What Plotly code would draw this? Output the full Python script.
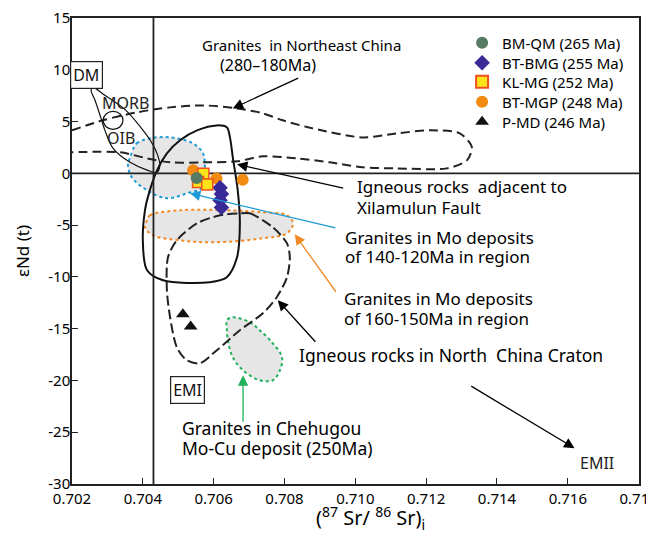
import plotly.graph_objects as go

# ---------------- data ----------------
BMQM_X = [0.70552]
BMQM_Y = [-0.45]
BTBMG_X = [0.70618, 0.70622, 0.70618, 0.70622]
BTBMG_Y = [-1.4, -2.0, -2.6, -3.3]
KLMG_X = [0.70571, 0.70556, 0.70582]
KLMG_Y = [-0.03, -0.84, -1.09]
BTMGP_X = [0.70542, 0.70608, 0.70682]
BTMGP_Y = [0.29, -0.51, -0.61]
PMD_X = [0.70513, 0.70535]
PMD_Y = [-13.6, -14.8]

# reference lines
SR_BULK = 0.7043
ND_CHUR = 0.0
X_RANGE = [0.702, 0.71801]
Y_RANGE = [-30, 15]

X_TICKS = [0.702, 0.704, 0.706, 0.708, 0.710, 0.712, 0.714, 0.716, 0.718]
X_TICKTEXT = ["0.702", "0.704", "0.706", "0.708", "0.710", "0.712", "0.714", "0.716", "0.718"]
Y_TICKS = [-30, -25, -20, -15, -10, -5, 0, 5, 10, 15]
Y_TICKTEXT = ["-30", "-25", "-20", "-15", "-10", "-5", "0", "5", "10", "15"]

# field outlines
MANTLE_X = [0.70259, 0.70293, 0.70352, 0.70394, 0.70421, 0.70440, 0.70448, 0.70440, 0.70414,
            0.70364, 0.70316, 0.70293, 0.70282, 0.70265, 0.70254, 0.70259]
MANTLE_Y = [8.30, 7.53, 6.08, 4.44, 3.19, 1.93, 0.77, 0.10, 0.29, 1.06, 2.41, 4.15, 5.31, 7.05, 8.01, 8.30]

OIB_CIRCLE = dict(x0=0.70288, x1=0.70344, y0=4.25, y1=5.99)

XILA_X = [0.70406, 0.70414, 0.70440, 0.70468, 0.70505, 0.70553, 0.70609, 0.70637, 0.70646, 0.70654,
          0.70668, 0.70674, 0.70666, 0.70637, 0.70589, 0.70457, 0.70412, 0.70400, 0.70406]
XILA_Y = [-3.57, -2.32, 0.29, 1.93, 3.19, 4.15, 4.63, 4.44, 3.47, 1.54,
          -1.64, -4.83, -8.11, -10.04, -10.52, -10.33, -9.36, -6.47, -3.57]

NE_X = [0.70200, 0.70287, 0.70383, 0.70477, 0.70570, 0.70666, 0.70739, 0.70795, 0.70880, 0.71021,
        0.71117, 0.71210, 0.71295, 0.71329, 0.71315, 0.71258, 0.71117, 0.71021, 0.70928, 0.70835,
        0.70739, 0.70666, 0.70570, 0.70477, 0.70412, 0.70335, 0.70200]
NE_Y = [4.15, 5.12, 5.89, 6.37, 6.56, 6.27, 5.79, 5.12, 4.34, 3.47,
        3.86, 4.15, 3.86, 2.51, 1.25, 0.48, 0.48, 0.58, 1.06, 1.45,
        1.64, 1.16, 1.06, 1.06, 1.45, 2.03, 2.03]

BLUE_X = [0.70364, 0.70383, 0.70420, 0.70477, 0.70541, 0.70570, 0.70575, 0.70570, 0.70524,
          0.70468, 0.70412, 0.70369, 0.70358, 0.70364]
BLUE_Y = [1.54, 2.90, 3.38, 3.47, 2.90, 1.93, 0.58, -1.35, -1.93, -2.41, -1.64, -0.39, 0.77, 1.54]

ORANGE_X = [0.70412, 0.70420, 0.70505, 0.70646, 0.70739, 0.70807, 0.70824, 0.70807, 0.70739,
            0.70598, 0.70505, 0.70429, 0.70406, 0.70412]
ORANGE_Y = [-4.54, -4.05, -3.57, -3.57, -3.76, -4.05, -4.83, -5.79, -6.27, -6.66, -6.47, -5.98, -5.21, -4.54]

NCC_X = [0.70674, 0.70702, 0.70767, 0.70807, 0.70815, 0.70807, 0.70778, 0.70739, 0.70674, 0.70609,
         0.70561, 0.70524, 0.70496, 0.70477, 0.70468, 0.70471, 0.70496, 0.70553, 0.70618, 0.70674]
NCC_Y = [-3.86, -3.86, -5.21, -6.76, -8.11, -10.04, -11.97, -13.51, -15.15, -17.08,
         -18.34, -18.05, -16.80, -13.90, -11.29, -8.11, -6.47, -4.83, -4.05, -3.86]

GREEN_X = [0.70637, 0.70654, 0.70702, 0.70730, 0.70767, 0.70793, 0.70787, 0.70767, 0.70730,
           0.70683, 0.70654, 0.70640, 0.70637, 0.70637]
GREEN_Y = [-14.19, -13.90, -14.38, -15.15, -16.41, -17.76, -19.02, -19.98, -19.98,
           -19.02, -17.76, -16.12, -14.86, -14.19]

# labels: (text, x, y, size)
LEFT_LABELS = [
    ("Granites  in Northeast China", 0.70561, 12.36, 15),
    ("(280–180Ma)", 0.70612, 10.42, 16),
    ("Igneous rocks  adjacent to", 0.70999, -1.25, 17),
    ("Xilamulun Fault", 0.70999, -3.28, 17),
    ("Granites in Mo deposits", 0.70965, -6.18, 17),
    ("of 140-120Ma in region", 0.70965, -8.01, 17),
    ("Granites in Mo deposits", 0.70962, -12.07, 17),
    ("of 160-150Ma in region", 0.70962, -14.0, 17),
    ("Igneous rocks in North  China Craton", 0.70835, -17.57, 17.5),
    ("Granites in Chehugou", 0.70505, -24.61, 17.5),
    ("Mo-Cu deposit (250Ma)", 0.70505, -26.54, 17.5),
]
CENTER_LABELS = [
    ("MORB", 0.70352, 6.76),
    ("OIB", 0.70338, 3.38),
    ("EMII", 0.71681, -27.99),
]
BOXED_LABELS = [
    ("DM", 0.70242, 9.46),
    ("EMI", 0.70527, -20.95),
]
# arrows: (tail_x, tail_y, head_x, head_y, colour)
ARROWS = [
    (0.70843, 9.27, 0.70654, 6.27, "black"),
    (0.70970, -1.45, 0.70666, 0.87, "black"),
    (0.70948, -5.31, 0.70533, -1.93, "#1c9ad6"),
    (0.70948, -11.58, 0.70829, -5.89, "#f08a24"),
    (0.70891, -16.41, 0.70781, -12.26, "black"),
    (0.70683, -24.13, 0.70683, -19.50, "#20b15a"),
    (0.71323, -20.46, 0.71619, -26.54, "black"),
]

FONT = "Noto Sans, Liberation Sans, Arial, sans-serif"
GRAY = "#e6e6e6"

fig = go.Figure()

# filled dotted fields
for xs, ys, col in [(BLUE_X, BLUE_Y, "#1c9ad6"), (ORANGE_X, ORANGE_Y, "#f08a24"), (GREEN_X, GREEN_Y, "#20b15a")]:
    fig.add_trace(go.Scatter(x=xs, y=ys, mode="lines", fill="toself", fillcolor=GRAY,
                             line=dict(color=col, width=2, dash="dot", shape="spline", smoothing=1.0),
                             showlegend=False, hoverinfo="skip"))

# black outlines
fig.add_trace(go.Scatter(x=NE_X, y=NE_Y, mode="lines",
                         line=dict(color="#222", width=2, dash="9px,5px", shape="spline", smoothing=0.8),
                         showlegend=False, hoverinfo="skip"))
fig.add_trace(go.Scatter(x=NCC_X, y=NCC_Y, mode="lines",
                         line=dict(color="#222", width=2, dash="10px,4px", shape="spline", smoothing=0.8),
                         showlegend=False, hoverinfo="skip"))
fig.add_trace(go.Scatter(x=XILA_X, y=XILA_Y, mode="lines",
                         line=dict(color="#111", width=2, shape="spline", smoothing=0.9),
                         showlegend=False, hoverinfo="skip"))
fig.add_trace(go.Scatter(x=MANTLE_X, y=MANTLE_Y, mode="lines",
                         line=dict(color="#111", width=1.2, shape="spline", smoothing=0.9),
                         showlegend=False, hoverinfo="skip"))

# reference lines
fig.add_trace(go.Scatter(x=X_RANGE, y=[ND_CHUR, ND_CHUR], mode="lines",
                         line=dict(color="#222", width=1.8), showlegend=False, hoverinfo="skip"))
fig.add_trace(go.Scatter(x=[SR_BULK, SR_BULK], y=Y_RANGE, mode="lines",
                         line=dict(color="#222", width=1.8), showlegend=False, hoverinfo="skip"))

# data points (each in its own legend box, stacked like the reference)
fig.add_trace(go.Scatter(x=BTMGP_X, y=BTMGP_Y, mode="markers", name="BT-MGP (248 Ma)", legend="legend4",
                         marker=dict(symbol="circle", size=12, color="#f28a12")))
fig.add_trace(go.Scatter(x=BTBMG_X, y=BTBMG_Y, mode="markers", name="BT-BMG (255 Ma)", legend="legend2",
                         marker=dict(symbol="diamond", size=12, color="#3a2a98")))
fig.add_trace(go.Scatter(x=KLMG_X, y=KLMG_Y, mode="markers", name="KL-MG (252 Ma)", legend="legend3",
                         marker=dict(symbol="square", size=11, color="#ffe31a",
                                     line=dict(color="#f0501e", width=1.5))))
fig.add_trace(go.Scatter(x=BMQM_X, y=BMQM_Y, mode="markers", name="BM-QM (265 Ma)", legend="legend",
                         marker=dict(symbol="circle", size=12, color="#577a62")))
fig.add_trace(go.Scatter(x=PMD_X, y=PMD_Y, mode="markers", name="P-MD (246 Ma)", legend="legend5",
                         marker=dict(symbol="triangle-up", size=12, color="#111")))

annotations = []
for t, x, y, s in LEFT_LABELS:
    annotations.append(dict(text=t, x=x, y=y, xref="x", yref="y", xanchor="left", yanchor="middle",
                            showarrow=False, font=dict(size=s, color="black", family=FONT)))
for t, x, y in CENTER_LABELS:
    annotations.append(dict(text=t, x=x, y=y, xref="x", yref="y", xanchor="center", yanchor="middle",
                            showarrow=False, font=dict(size=16, color="#222", family=FONT)))
for t, x, y in BOXED_LABELS:
    annotations.append(dict(text=t, x=x, y=y, xref="x", yref="y", xanchor="center", yanchor="middle",
                            showarrow=False, bordercolor="#222", borderwidth=1.2, borderpad=2,
                            bgcolor="white", font=dict(size=16, color="#111", family=FONT)))
for tx, ty, hx, hy, col in ARROWS:
    annotations.append(dict(text="", x=hx, y=hy, ax=tx, ay=ty, xref="x", yref="y", axref="x", ayref="y",
                            showarrow=True, arrowhead=2, arrowsize=1.6, arrowwidth=1.3, arrowcolor=col))
annotations.append(dict(text="(<sup>87</sup> Sr/ <sup>86</sup> Sr)<sub>i</sub>", x=0.527, y=-0.074,
                        xref="paper", yref="paper", xanchor="center", yanchor="middle", showarrow=False,
                        font=dict(size=20, color="black", family=FONT)))
annotations.append(dict(text="εNd (t)", x=-0.088, y=0.5, xref="paper", yref="paper", textangle=-90,
                        xanchor="center", yanchor="middle", showarrow=False,
                        font=dict(size=17, color="black", family=FONT)))

legend_rows = [0.9464, 0.9034, 0.8627, 0.8197, 0.7768]
legend_keys = ["legend", "legend2", "legend3", "legend4", "legend5"]
legend_layout = {}
for key, yy in zip(legend_keys, legend_rows):
    legend_layout[key] = dict(x=0.688, y=yy, xanchor="left", yanchor="middle", bgcolor="rgba(0,0,0,0)",
                              font=dict(size=15, family=FONT, color="black"), itemsizing="constant")

fig.update_layout(
    width=646, height=536,
    margin=dict(l=72, r=7, t=18, b=52, autoexpand=False),
    plot_bgcolor="white", paper_bgcolor="white",
    font=dict(family=FONT, size=15, color="black"),
    shapes=[dict(type="circle", xref="x", yref="y", line=dict(color="#111", width=1.2), **OIB_CIRCLE)],
    annotations=annotations,
    **legend_layout,
)
fig.update_xaxes(range=X_RANGE, tickvals=X_TICKS, ticktext=X_TICKTEXT, ticks="inside", ticklen=6,
                 tickcolor="#222", showline=True, linecolor="#222", linewidth=1.5, mirror=True,
                 showgrid=False, zeroline=False, tickfont=dict(size=15, family=FONT),
                 ticklabeloverflow="allow", automargin=False)
fig.update_yaxes(range=Y_RANGE, tickvals=Y_TICKS, ticktext=Y_TICKTEXT, ticks="inside", ticklen=6,
                 tickcolor="#222", showline=True, linecolor="#222", linewidth=1.5, mirror=True,
                 showgrid=False, zeroline=False, tickfont=dict(size=15, family=FONT),
                 ticklabelstandoff=-3, automargin=False)

POST = ("document.body.style.margin='0px';"
        "document.body.style.overflow='hidden';"
        "document.documentElement.style.overflow='hidden';"
        "var gd=document.getElementsByClassName('plotly-graph-div');"
        "for(var i=0;i<gd.length;i++) gd[i].style.overflow='hidden';")

fig.write_html("out.html", config={"displayModeBar": False}, post_script=POST)
